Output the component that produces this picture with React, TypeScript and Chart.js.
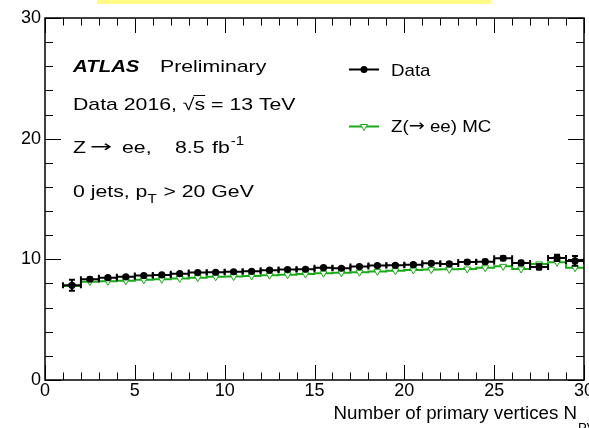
import React, { useEffect, useRef } from "react";
import { Chart, registerables } from "chart.js";

Chart.register(...registerables);

// ---------------- data ----------------
const binCenters = [
  1.5, 2.5, 3.5, 4.5, 5.5, 6.5, 7.5, 8.5, 9.5, 10.5,
  11.5, 12.5, 13.5, 14.5, 15.5, 16.5, 17.5, 18.5, 19.5, 20.5,
  21.5, 22.5, 23.5, 24.5, 25.5, 26.5, 27.5, 28.5, 29.5,
];
const dataValues = [
  7.85, 8.35, 8.48, 8.55, 8.66, 8.71, 8.81, 8.9, 8.93, 8.97,
  9.01, 9.1, 9.15, 9.18, 9.31, 9.26, 9.4, 9.48, 9.51, 9.56,
  9.67, 9.62, 9.78, 9.81, 10.09, 9.7, 9.37, 10.12, 9.87,
];
const dataErrors = [
  0.45, 0.15, 0.1, 0.08, 0.07, 0.07, 0.07, 0.07, 0.07, 0.07,
  0.07, 0.07, 0.08, 0.08, 0.08, 0.09, 0.09, 0.1, 0.1, 0.11,
  0.12, 0.13, 0.14, 0.15, 0.17, 0.19, 0.22, 0.26, 0.4,
];
const mcValues = [
  7.8, 8.15, 8.18, 8.22, 8.3, 8.35, 8.42, 8.48, 8.55, 8.57,
  8.62, 8.68, 8.72, 8.78, 8.85, 8.88, 8.93, 9.0, 9.05, 9.12,
  9.15, 9.17, 9.2, 9.3, 9.42, 9.2, 9.62, 9.75, 9.3,
];
const mcErrors = [
  0.35, 0.08, 0.05, 0.04, 0.04, 0.04, 0.04, 0.04, 0.04, 0.04,
  0.04, 0.04, 0.04, 0.04, 0.04, 0.04, 0.05, 0.05, 0.05, 0.05,
  0.06, 0.06, 0.07, 0.08, 0.09, 0.1, 0.12, 0.14, 0.2,
];
const binHalfWidth = 0.5;

const xTickLabels = [0, 5, 10, 15, 20, 25, 30];
const yTickLabels = [0, 10, 20, 30];
const xMinorStep = 1;
const yMinorStep = 2;

const legendLabels = ["Data", "Z(\u2192 ee) MC"];
const xTitle = "Number of primary vertices N";
const xTitleSub = "PV";

// ---------------- style ----------------
const FONT = "'Liberation Sans', Arial, Helvetica, sans-serif";
const ARROW_FONT = "'DejaVu Sans', sans-serif";
const GREEN = "rgb(24,170,24)";

function sText(ctx: CanvasRenderingContext2D, text: string, x: number, y: number, font: string, sx: number) {
  ctx.save();
  ctx.font = font;
  ctx.translate(x, y);
  ctx.scale(sx, 1);
  ctx.fillText(text, 0, 0);
  const w = ctx.measureText(text).width * sx;
  ctx.restore();
  return w;
}
function sWidth(ctx: CanvasRenderingContext2D, text: string, font: string, sx: number) {
  ctx.save();
  ctx.font = font;
  const w = ctx.measureText(text).width * sx;
  ctx.restore();
  return w;
}

const atlasPlugin = {
  id: "atlasDecor",
  beforeDatasetDraw(chart: any, args: any) {
    const ctx: CanvasRenderingContext2D = chart.ctx;
    const xs = chart.scales.x;
    const ys = chart.scales.y;
    const ds = chart.data.datasets[args.index];
    const area = chart.chartArea;
    ctx.save();
    ctx.beginPath();
    ctx.rect(area.left, area.top, area.right - area.left, area.bottom - area.top);
    ctx.clip();
    if (ds.label === "Data") {
      ctx.strokeStyle = "#000";
      ctx.lineWidth = 2;
      binCenters.forEach((b, i) => {
        const v = dataValues[i];
        const e = dataErrors[i];
        const x0 = xs.getPixelForValue(b - binHalfWidth);
        const x1 = xs.getPixelForValue(b + binHalfWidth);
        const xc = xs.getPixelForValue(b);
        const yc = ys.getPixelForValue(v);
        const yLo = ys.getPixelForValue(v - e);
        const yHi = ys.getPixelForValue(v + e);
        ctx.beginPath();
        ctx.moveTo(x0, yc);
        ctx.lineTo(x1, yc);
        ctx.moveTo(x0, yc - 3);
        ctx.lineTo(x0, yc + 3);
        ctx.moveTo(x1, yc - 3);
        ctx.lineTo(x1, yc + 3);
        ctx.moveTo(xc, yLo);
        ctx.lineTo(xc, yHi);
        ctx.moveTo(xc - 3, yLo);
        ctx.lineTo(xc + 3, yLo);
        ctx.moveTo(xc - 3, yHi);
        ctx.lineTo(xc + 3, yHi);
        ctx.stroke();
      });
    }
    if (ds.label === "MC") {
      ctx.strokeStyle = GREEN;
      ctx.lineWidth = 2;
      const n = binCenters.length;
      ctx.beginPath();
      ctx.moveTo(xs.getPixelForValue(binCenters[0] - binHalfWidth), ys.getPixelForValue(mcValues[0]));
      ctx.lineTo(xs.getPixelForValue(binCenters[0]), ys.getPixelForValue(mcValues[0]));
      ctx.moveTo(xs.getPixelForValue(binCenters[n - 1]), ys.getPixelForValue(mcValues[n - 1]));
      ctx.lineTo(xs.getPixelForValue(binCenters[n - 1] + binHalfWidth), ys.getPixelForValue(mcValues[n - 1]));
      binCenters.forEach((b, i) => {
        const xc = xs.getPixelForValue(b);
        ctx.moveTo(xc, ys.getPixelForValue(mcValues[i] - mcErrors[i]));
        ctx.lineTo(xc, ys.getPixelForValue(mcValues[i] + mcErrors[i]));
      });
      ctx.stroke();
    }
    ctx.restore();
  },
  afterDraw(chart: any) {
    const ctx: CanvasRenderingContext2D = chart.ctx;
    const xs = chart.scales.x;
    const ys = chart.scales.y;
    const { left, right, top, bottom } = chart.chartArea;

    // yellow highlight strip at the very top
    ctx.save();
    ctx.fillStyle = "#fffb86";
    ctx.fillRect(97, 0, 394, 4);
    ctx.restore();

    // frame
    ctx.save();
    ctx.strokeStyle = "#000";
    ctx.lineWidth = 1.5;
    ctx.strokeRect(left, top, right - left, bottom - top);

    // ticks (inward, ROOT style)
    ctx.lineWidth = 1;
    ctx.beginPath();
    for (let v = xs.min; v <= xs.max + 1e-9; v += xMinorStep) {
      const major = xTickLabels.includes(v);
      const len = major ? 15 : 7.5;
      const px = Math.round(xs.getPixelForValue(v)) + 0.5;
      ctx.moveTo(px, bottom);
      ctx.lineTo(px, bottom - len);
      ctx.moveTo(px, top);
      ctx.lineTo(px, top + len);
    }
    for (let v = ys.min; v <= ys.max + 1e-9; v += yMinorStep) {
      const major = yTickLabels.includes(v);
      const len = major ? 16 : 8;
      const py = Math.round(ys.getPixelForValue(v)) + 0.5;
      ctx.moveTo(left, py);
      ctx.lineTo(left + len, py);
      ctx.moveTo(right, py);
      ctx.lineTo(right - len, py);
    }
    ctx.stroke();
    ctx.restore();

    // texts
    ctx.save();
    ctx.fillStyle = "#000";
    ctx.textBaseline = "alphabetic";
    ctx.textAlign = "left";
    const sx = 1.25;
    const f = `17px ${FONT}`;
    const fSmall = `12px ${FONT}`;
    const fArrow = `16px ${ARROW_FONT}`;
    sText(ctx, "ATLAS", 73, 72, `italic bold 17px ${FONT}`, 1.2);
    sText(ctx, "Preliminary", 160, 72, f, sx);

    const l2 = "Data 2016, \u221As = 13 TeV";
    sText(ctx, l2, 73, 110, f, sx);
    const preW = sWidth(ctx, "Data 2016, ", f, sx);
    const sqW = sWidth(ctx, "\u221A", f, sx);
    const sW = sWidth(ctx, "s", f, sx);
    ctx.strokeStyle = "#000";
    ctx.lineWidth = 1;
    ctx.beginPath();
    ctx.moveTo(73 + preW + sqW - 1, 110 - 14.5);
    ctx.lineTo(73 + preW + sqW + sW, 110 - 14.5);
    ctx.stroke();

    sText(ctx, "Z", 73, 153, f, sx);
    sText(ctx, "\u2192", 90, 152, fArrow, 1.65);
    sText(ctx, "ee,", 122, 153, f, sx);
    sText(ctx, "8.5", 175, 153, f, sx);
    const fbW = sText(ctx, "fb", 212, 153, f, sx);
    sText(ctx, "-1", 212 + fbW + 1, 145, fSmall, sx);

    const pW = sText(ctx, "0 jets, p", 73, 197, f, sx);
    const tW = sText(ctx, "T", 73 + pW, 203, fSmall, sx);
    sText(ctx, " > 20 GeV", 73 + pW + tW + 1, 197, f, sx);

    // legend
    const lf = `17px ${FONT}`;
    ctx.strokeStyle = "#000";
    ctx.lineWidth = 2;
    ctx.beginPath();
    ctx.moveTo(349, 69.5);
    ctx.lineTo(379, 69.5);
    ctx.stroke();
    ctx.fillStyle = "#000";
    ctx.beginPath();
    ctx.arc(364, 69.5, 3.5, 0, Math.PI * 2);
    ctx.fill();
    sText(ctx, legendLabels[0], 391, 76, lf, 1.1);

    ctx.strokeStyle = GREEN;
    ctx.lineWidth = 2;
    ctx.beginPath();
    ctx.moveTo(349, 126.5);
    ctx.lineTo(379, 126.5);
    ctx.stroke();
    ctx.lineWidth = 1;
    ctx.fillStyle = "#fff";
    ctx.beginPath();
    ctx.moveTo(364, 130.5);
    ctx.lineTo(360.5, 124.5);
    ctx.lineTo(367.5, 124.5);
    ctx.closePath();
    ctx.fill();
    ctx.stroke();
    ctx.fillStyle = "#000";
    // "Z(→ ee) MC" drawn in pieces so the arrow has the wider ROOT look
    const parts = legendLabels[1].split("\u2192");
    const zW = sText(ctx, parts[0], 391, 132, lf, 1.1);
    const aW = sText(ctx, "\u2192", 391 + zW, 131, `16px ${ARROW_FONT}`, 1.2);
    sText(ctx, parts[1], 391 + zW + aW, 132, lf, 1.1);

    // x-axis title
    const tf = `18px ${FONT}`;
    const tsx = 1.04;
    const tw = sWidth(ctx, xTitle, tf, tsx);
    sText(ctx, xTitle, 577 - tw, 419, tf, tsx);
    sText(ctx, xTitleSub, 578, 432, `12px ${FONT}`, 1.1);
    ctx.restore();
  },
};

export default function App() {
  const canvasRef = useRef<HTMLCanvasElement | null>(null);

  useEffect(() => {
    document.body.style.margin = "0";
    const canvas = canvasRef.current;
    if (!canvas) return;
    const chart = new Chart(canvas, {
      type: "line",
      data: {
        datasets: [
          {
            label: "Data",
            data: binCenters.map((b, i) => ({ x: b, y: dataValues[i] })),
            showLine: false,
            pointRadius: 3.6,
            pointBackgroundColor: "#000",
            pointBorderColor: "#000",
            pointBorderWidth: 0,
            borderColor: "#000",
          },
          {
            label: "MC",
            data: binCenters.map((b, i) => ({ x: b, y: mcValues[i] })),
            stepped: "middle",
            borderColor: GREEN,
            borderWidth: 2,
            pointStyle: "triangle",
            rotation: 180,
            pointRadius: 4,
            pointBackgroundColor: "#fff",
            pointBorderColor: GREEN,
            pointBorderWidth: 1,
            fill: false,
          },
        ] as any,
      },
      options: {
        animation: false,
        responsive: false,
        devicePixelRatio: 1,
        layout: { padding: { top: 18, right: 3, bottom: 0, left: 0 } },
        plugins: {
          legend: { display: false },
          tooltip: { enabled: false },
        },
        scales: {
          x: {
            type: "linear",
            min: 0,
            max: 30,
            afterBuildTicks: (s: any) => {
              s.ticks = xTickLabels.map((v) => ({ value: v }));
            },
            afterFit: (s: any) => {
              s.height = 48;
              s.paddingLeft = 0;
              s.paddingRight = 0;
            },
            ticks: {
              color: "#000",
              font: { family: FONT, size: 18 },
              padding: 0,
              maxRotation: 0,
              autoSkip: false,
              callback: (v: any) => String(v),
            },
            grid: { display: false, drawTicks: false },
            border: { display: false },
          },
          y: {
            type: "linear",
            min: 0,
            max: 30,
            afterBuildTicks: (s: any) => {
              s.ticks = yTickLabels.map((v) => ({ value: v }));
            },
            afterFit: (s: any) => {
              s.width = 45;
            },
            ticks: {
              color: "#000",
              font: { family: FONT, size: 18 },
              padding: 4,
              autoSkip: false,
              callback: (v: any) => String(v),
            },
            grid: { display: false, drawTicks: false },
            border: { display: false },
          },
        },
      } as any,
      plugins: [atlasPlugin],
    });
    return () => chart.destroy();
  }, []);

  return (
    <div style={{ width: 589, height: 428, overflow: "hidden", position: "relative", background: "#fff" }}>
      <canvas ref={canvasRef} width={589} height={428} style={{ display: "block" }} />
    </div>
  );
}
